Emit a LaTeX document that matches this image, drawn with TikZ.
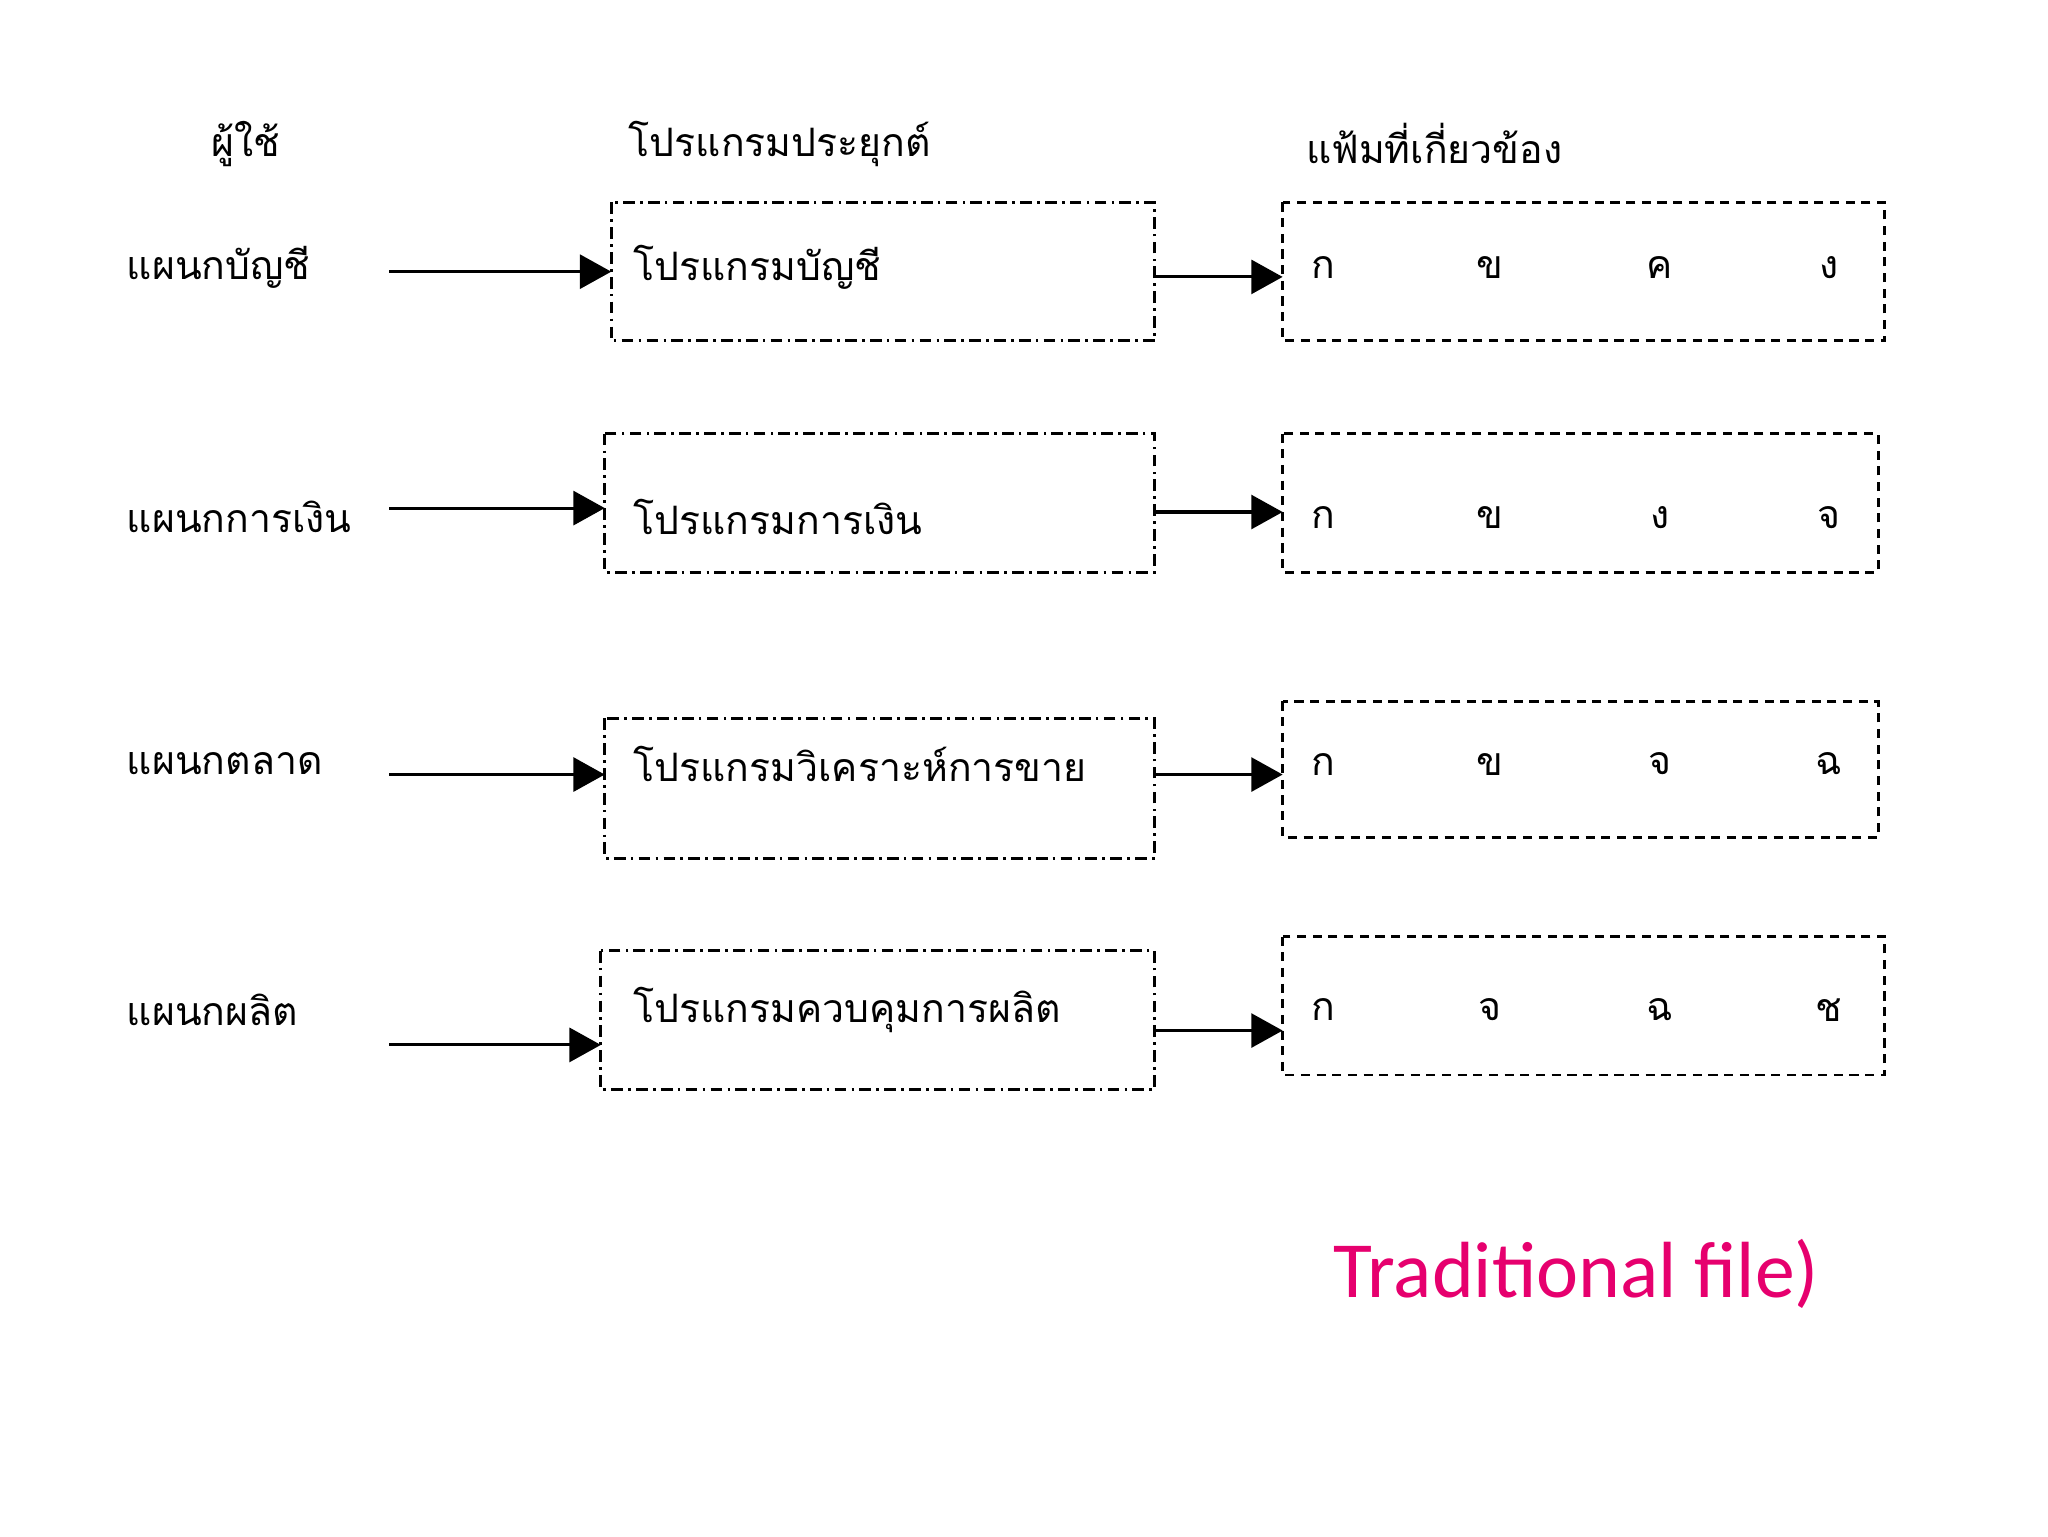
\documentclass[tikz,border=0pt]{standalone}
\usepackage{fontspec}
\newfontfamily\thaifont[Script=Thai]{Loma}
\setmainfont{Carlito}
\usetikzlibrary{arrows.meta}
\begin{document}
\begin{tikzpicture}[x=1pt,y=-1pt,
  th/.style={font=\thaifont\fontsize{30}{34}\selectfont, inner sep=0pt},
  lbl/.style={th, anchor=west},
  prog/.style={draw, line width=2.2pt, dash pattern=on 9pt off 4pt on 2pt off 4pt},
  file/.style={draw, line width=2.2pt, dash pattern=on 7pt off 5pt},
  arr/.style={line width=2.4pt, -{Triangle[length=24pt,width=26pt]}}]
\useasboundingbox (0,0) rectangle (1568,1176);
\node[th] (h1) at (188,110) {ผู้ใช้};
\node[th] (h2) at (597,110) {โปรแกรมประยุกต์};
\node[th] (h3) at (1098,110) {แฟ้มที่เกี่ยวข้อง};
\foreach \i/\lab/\ay/\px/\pt/\pb/\cy/\fr/\ft/\fb/\ptxt/\la/\lb/\lc/\ld/\ly in {
 1/แผนกบัญชี/208/468/155/261/212/1443/155/261/โปรแกรมบัญชี/ก/ข/ค/ง/205,
 2/แผนกการเงิน/389/463/332/438/392/1438/332/438/โปรแกรมการเงิน/ก/ข/ง/จ/396,
 3/แผนกตลาด/593/463/550/657/593/1438/537/641/โปรแกรมวิเคราะห์การขาย/ก/ข/จ/ฉ/585,
 4/แผนกผลิต/800/460/728/834/789/1443/717/823/โปรแกรมควบคุมการผลิต/ก/จ/ฉ/ช/773}{
  \node[lbl] (l\i) at (97,\ly) {\lab};
  \coordinate (s\i) at (298,\ay);
  \draw[prog] (\px,\pt) rectangle (884,\pb);
  \coordinate (pin\i) at (\px,\ay);
  \draw[arr] (s\i) -- (pin\i);
  \node[lbl] (p\i) at (485,\ly) {\ptxt};
  \draw[file] (982,\ft) rectangle (\fr,\fb);
  \coordinate (po\i) at (884,\cy);
  \coordinate (fi\i) at (982,\cy);
  \draw[arr] (po\i) -- (fi\i);
  \node[th] (a\i) at (1013,\ly) {\la};
  \node[th] (b\i) at (1141,\ly) {\lb};
  \node[th] (c\i) at (1271,\ly) {\lc};
  \node[th] (d\i) at (1400,\ly) {\ld};
}
\node[font=\fontsize{61}{70}\selectfont, text={rgb,255:red,230;green,0;blue,110}] (t) at (1207,975) {Traditional file)};
\end{tikzpicture}
\end{document}
